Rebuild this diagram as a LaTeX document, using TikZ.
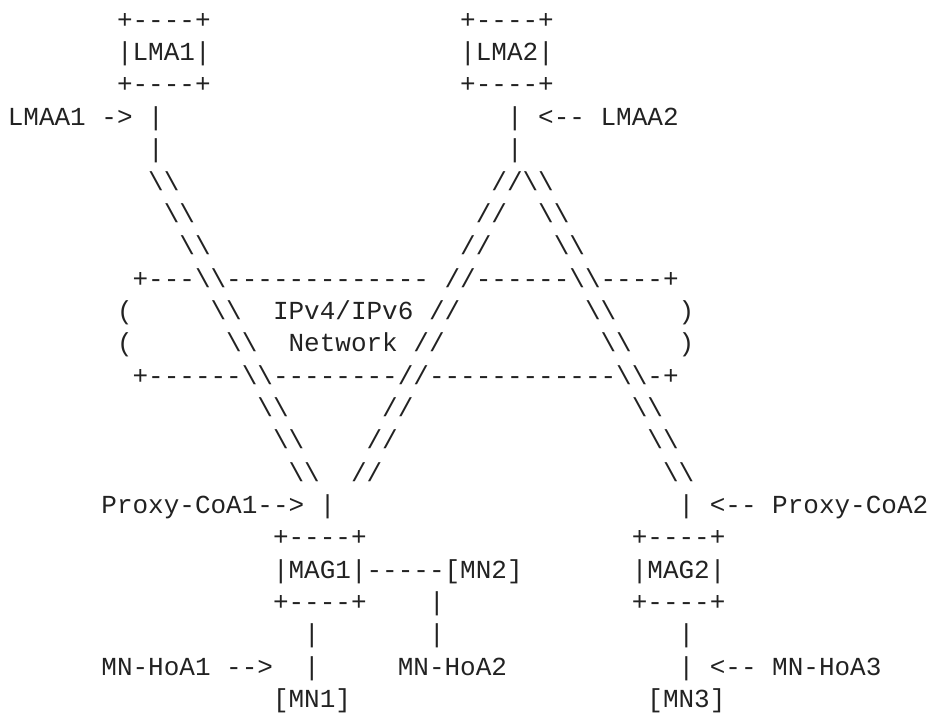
\documentclass[tikz,border=0pt]{standalone}
\usepackage{fontspec}
\setmonofont{Liberation Mono}
\definecolor{ink}{RGB}{34,34,34}
\newcommand\bs{\textbackslash}
\newcommand\tok[4]{\node[tk] (#1) at (#2,#3) {#4};}
\tikzset{tk/.style={anchor=base west, inner sep=0pt, outer sep=0pt,
  font=\ttfamily\fontsize{26pt}{32pt}\selectfont, text=ink}}
\begin{document}
\begin{tikzpicture}
\useasboundingbox (0,0) rectangle (931pt,-715pt);
\begin{scope}[x=15.6pt, y=-32.35pt, shift={(7.8pt,4.1pt)}]
% row 1-3: LMA boxes
\tok{lmaAt}{7}{1}{+----+}
\tok{lmaBt}{29}{1}{+----+}
\tok{lmaA}{7}{2}{|LMA1|}
\tok{lmaB}{29}{2}{|LMA2|}
\tok{lmaAb}{7}{3}{+----+}
\tok{lmaBb}{29}{3}{+----+}
% row 4-5
\tok{lmaaA}{0}{4}{LMAA1 -> |}
\tok{lmaaB}{32}{4}{| <-- LMAA2}
\tok{r5a}{9}{5}{|}
\tok{r5b}{32}{5}{|}
% row 6-8
\tok{r6a}{9}{6}{\bs\bs}
\tok{r6b}{31}{6}{//\bs\bs}
\tok{r7a}{10}{7}{\bs\bs}
\tok{r7b}{30}{7}{//}
\tok{r7c}{34}{7}{\bs\bs}
\tok{r8a}{11}{8}{\bs\bs}
\tok{r8b}{29}{8}{//}
\tok{r8c}{35}{8}{\bs\bs}
% row 9-12: network cloud
\tok{netTop}{8}{9}{+---\bs\bs------------- //------\bs\bs----+}
\tok{r10a}{7}{10}{(}
\tok{r10b}{13}{10}{\bs\bs}
\tok{netA}{17}{10}{IPv4/IPv6 //}
\tok{r10c}{37}{10}{\bs\bs}
\tok{r10d}{43}{10}{)}
\tok{r11a}{7}{11}{(}
\tok{r11b}{14}{11}{\bs\bs}
\tok{netB}{18}{11}{Network //}
\tok{r11c}{38}{11}{\bs\bs}
\tok{r11d}{43}{11}{)}
\tok{netBot}{8}{12}{+------\bs\bs--------//------------\bs\bs-+}
% row 13-15
\tok{r13a}{16}{13}{\bs\bs}
\tok{r13b}{24}{13}{//}
\tok{r13c}{40}{13}{\bs\bs}
\tok{r14a}{17}{14}{\bs\bs}
\tok{r14b}{23}{14}{//}
\tok{r14c}{41}{14}{\bs\bs}
\tok{r15a}{18}{15}{\bs\bs}
\tok{r15b}{22}{15}{//}
\tok{r15c}{42}{15}{\bs\bs}
% row 16
\tok{pcoaA}{6}{16}{Proxy-CoA1--> |}
\tok{pcoaB}{43}{16}{| <-- Proxy-CoA2}
% row 17-19: MAG boxes
\tok{magAt}{17}{17}{+----+}
\tok{magBt}{40}{17}{+----+}
\tok{magA}{17}{18}{|MAG1|-----[MN2]}
\tok{magB}{40}{18}{|MAG2|}
\tok{magAb}{17}{19}{+----+}
\tok{r19a}{27}{19}{|}
\tok{magBb}{40}{19}{+----+}
% row 20-22
\tok{r20a}{19}{20}{|}
\tok{r20b}{27}{20}{|}
\tok{r20c}{43}{20}{|}
\tok{hoaA}{6}{21}{MN-HoA1 -->}
\tok{r21a}{19}{21}{|}
\tok{hoaB}{25}{21}{MN-HoA2}
\tok{hoaC}{43}{21}{| <-- MN-HoA3}
\tok{mnA}{17}{22}{[MN1]}
\tok{mnC}{41}{22}{[MN3]}
\end{scope}
\end{tikzpicture}
\end{document}
